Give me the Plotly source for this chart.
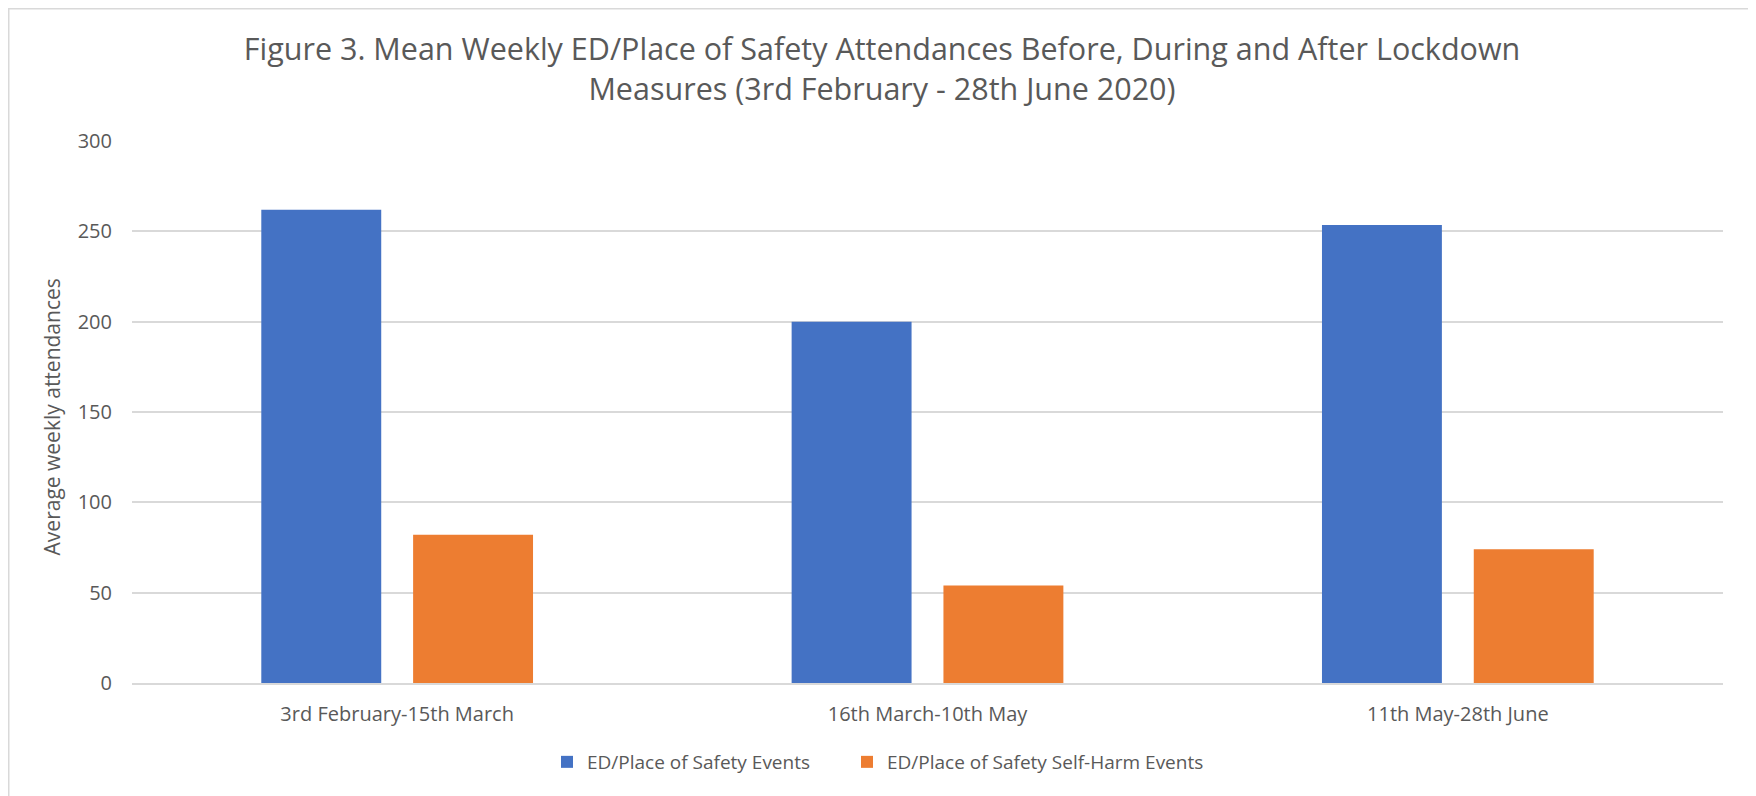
import plotly.graph_objects as go

categories = ["3rd February-15th March", "16th March-10th May", "11th May-28th June"]
series_names = ["ED/Place of Safety Events", "ED/Place of Safety Self-Harm Events"]
events = [262, 200, 253.5]
self_harm = [82, 54, 74]
y_ticks = [0, 50, 100, 150, 200, 250, 300]

# page body has an 8px margin, so the figure is laid out 8px smaller
W, H = 1748, 788
ML, MR, MT, MB = 124, 33, 133, 113
FONT = "Open Sans"
GREY = "#595959"

fig = go.Figure()
fig.add_trace(go.Bar(x=categories, y=events, name=series_names[0], legend="legend", showlegend=True,
                     marker=dict(color="#4472C4", line=dict(width=0))))
fig.add_trace(go.Bar(x=categories, y=self_harm, name=series_names[1], legend="legend2", showlegend=True,
                     marker=dict(color="#ED7D31", line=dict(width=0))))

pw = W - ML - MR
ph = H - MT - MB
# outer chart border (in paper coords relative to plot area)
fig.add_shape(type="rect", xref="paper", yref="paper",
              x0=(0.75 - ML) / pw, x1=(W + 5 - ML) / pw,
              y0=(-5 - MB) / ph, y1=(H - 0.75 - MB) / ph,
              line=dict(color="#D9D9D9", width=1.5), fillcolor="rgba(0,0,0,0)", layer="below")

fig.add_annotation(text="Average weekly attendances", xref="paper", yref="paper",
                   x=(44 - ML) / pw, y=0.49, xanchor="center", yanchor="middle", textangle=-90,
                   showarrow=False, font=dict(family=FONT, size=21, color=GREY))

leg_common = dict(orientation="h", xanchor="left", xref="container", y=1 - 754 / H, yanchor="middle",
                  yref="container", font=dict(family=FONT, size=19, color=GREY), itemwidth=30,
                  bgcolor="rgba(0,0,0,0)", visible=True)

fig.update_layout(
    width=W, height=H,
    showlegend=True,
    margin=dict(l=ML, r=MR, t=MT, b=MB, autoexpand=False),
    paper_bgcolor="white", plot_bgcolor="white",
    barmode="group", bargap=0.4275, bargroupgap=0.21,
    font=dict(family=FONT, color=GREY),
    title=dict(text="Figure 3. Mean Weekly ED/Place of Safety Attendances Before, During and After Lockdown<br>Measures (3rd February - 28th June 2020)",
               x=0.5, xanchor="center", xref="container", y=1 - 52 / H, yanchor="top", yref="container",
               font=dict(family=FONT, size=30.5, color=GREY)),
    legend=dict(x=(561 - 22) / W, **leg_common),
    legend2=dict(x=(861 - 22) / W, **leg_common),
    xaxis=dict(showgrid=False, showline=True, linecolor="#D9D9D9", linewidth=1.5, automargin=False,
               ticks="outside", ticklen=12, tickcolor="rgba(0,0,0,0)",
               tickfont=dict(family=FONT, size=20, color=GREY)),
    yaxis=dict(range=[0, 300], tickvals=y_ticks, showgrid=True, gridcolor="#D9D9D9", gridwidth=1.5,
               zeroline=False, showline=False, automargin=False,
               ticks="outside", ticklen=15, tickcolor="rgba(0,0,0,0)",
               tickfont=dict(family=FONT, size=20, color=GREY)),
)

fig.write_html("out.html")
